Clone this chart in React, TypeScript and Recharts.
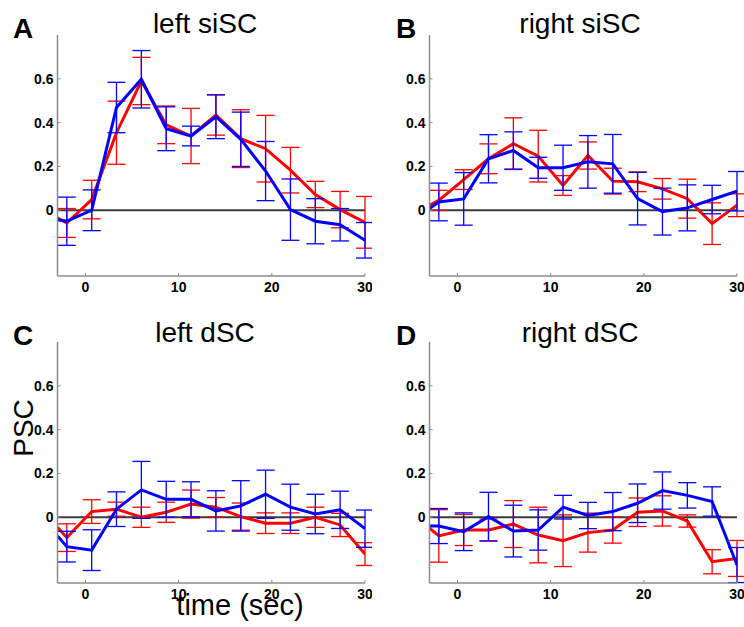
import { LineChart, Line, XAxis, YAxis, ReferenceLine, ErrorBar } from "recharts";

// sample times (s); the first entry is the left edge of the axes
const times = [-3, -2, 0.67, 3.33, 6, 8.67, 11.33, 14, 16.67, 19.33, 22, 24.67, 27.33, 30];
const xTicks = [0, 10, 20, 30];
const yTicks = [0, 0.2, 0.4, 0.6];

const leftSiscRed = [-0.035, -0.058, 0.049, 0.354, 0.59, 0.39, 0.339, 0.435, 0.327, 0.281, 0.183, 0.072, 0.003, -0.055];
const leftSiscRedErr = [null, 0.066, 0.088, 0.144, 0.108, 0.086, 0.126, 0.092, 0.132, 0.152, 0.104, 0.06, 0.083, 0.118];
const leftSiscBlue = [-0.043, -0.05, 0.0, 0.469, 0.598, 0.372, 0.339, 0.427, 0.324, 0.179, 0.003, -0.05, -0.066, -0.137];
const leftSiscBlueErr = [null, 0.11, 0.093, 0.115, 0.131, 0.1, 0.045, 0.1, 0.124, 0.135, 0.14, 0.103, 0.074, 0.081];

const rightSiscRed = [0.023, 0.045, 0.14, 0.235, 0.304, 0.247, 0.113, 0.25, 0.133, 0.13, 0.098, 0.053, -0.061, 0.023];
const rightSiscRedErr = [null, 0.046, 0.045, 0.068, 0.118, 0.118, 0.045, 0.062, 0.059, 0.045, 0.047, 0.089, 0.095, 0.052];
const rightSiscBlue = [0.008, 0.038, 0.052, 0.235, 0.273, 0.194, 0.194, 0.221, 0.212, 0.053, -0.006, 0.011, 0.049, 0.087];
const rightSiscBlueErr = [null, 0.086, 0.12, 0.11, 0.085, 0.048, 0.103, 0.12, 0.134, 0.12, 0.107, 0.105, 0.065, 0.09];

const leftDscRed = [-0.046, -0.093, 0.026, 0.037, 0.0, 0.023, 0.06, 0.046, 0.003, -0.027, -0.027, 0.0, -0.035, -0.168];
const leftDscRedErr = [null, 0.063, 0.054, 0.032, 0.046, 0.046, 0.064, 0.044, 0.062, 0.047, 0.047, 0.046, 0.053, 0.052];
const leftDscBlue = [-0.085, -0.134, -0.15, 0.037, 0.125, 0.082, 0.082, 0.029, 0.052, 0.105, 0.046, 0.015, 0.034, -0.052];
const leftDscBlueErr = [null, 0.07, 0.093, 0.079, 0.13, 0.082, 0.08, 0.092, 0.115, 0.11, 0.105, 0.09, 0.085, 0.085];

const rightDscRed = [-0.05, -0.085, -0.058, -0.058, -0.031, -0.081, -0.107, -0.07, -0.058, 0.023, 0.029, -0.017, -0.203, -0.188];
const rightDscRedErr = [null, 0.12, 0.071, 0.05, 0.107, 0.127, 0.118, 0.089, 0.06, 0.065, 0.069, 0.028, 0.055, 0.082];
const rightDscBlue = [-0.04, -0.04, -0.066, 0.003, -0.063, -0.058, 0.046, 0.008, 0.026, 0.064, 0.122, 0.1, 0.072, -0.218];
const rightDscBlueErr = [null, 0.08, 0.086, 0.111, 0.118, 0.092, 0.054, 0.06, 0.087, 0.088, 0.085, 0.058, 0.067, 0.08];

const FONT = '"Liberation Sans", Arial, Helvetica, sans-serif';
const RED = "#ff0000";
const BLUE = "#0000ff";

const buildRows = (red: number[], redErr: (number | null)[], blue: number[], blueErr: (number | null)[]) =>
	times.map((t, i) => ({
		t,
		red: red[i],
		redErr: redErr[i] ?? undefined,
		blue: blue[i],
		blueErr: blueErr[i] ?? undefined,
	}));

const panels = [
	{ letter: "A", title: "left siSC", left: 0, top: 0, data: buildRows(leftSiscRed, leftSiscRedErr, leftSiscBlue, leftSiscBlueErr) },
	{ letter: "B", title: "right siSC", left: 372, top: 0, data: buildRows(rightSiscRed, rightSiscRedErr, rightSiscBlue, rightSiscBlueErr) },
	{ letter: "C", title: "left dSC", left: 0, top: 307, data: buildRows(leftDscRed, leftDscRedErr, leftDscBlue, leftDscBlueErr) },
	{ letter: "D", title: "right dSC", left: 372, top: 307, data: buildRows(rightDscRed, rightDscRedErr, rightDscBlue, rightDscBlueErr) },
];

const tickStyle = { fill: "#000", fontSize: 14, fontWeight: 700, fontFamily: FONT };

function Panel({ data }: { data: any[] }) {
	return (
		<LineChart width={372} height={310} data={data} margin={{ top: 35, right: 7, left: 0, bottom: 4 }}>
			<XAxis
				dataKey="t"
				type="number"
				domain={[-3, 30]}
				allowDataOverflow
				ticks={xTicks}
				height={30}
				axisLine={{ stroke: "#8c8c8c", strokeWidth: 1.5 }}
				tickLine={{ stroke: "#8c8c8c" }}
				tickSize={-3}
				tickMargin={9}
				tick={tickStyle}
			/>
			<YAxis
				type="number"
				domain={[-0.3, 0.8]}
				allowDataOverflow
				ticks={yTicks}
				width={57.5}
				axisLine={{ stroke: "#8c8c8c", strokeWidth: 1.5 }}
				tickLine={{ stroke: "#8c8c8c" }}
				tickSize={-3}
				tickMargin={7}
				tick={tickStyle}
			/>
			<ReferenceLine y={0} stroke="#3a3a3a" strokeWidth={1.8} />
			<Line dataKey="red" stroke={RED} strokeWidth={3} dot={false} isAnimationActive={false}>
				<ErrorBar dataKey="redErr" direction="y" width={9} stroke={RED} strokeWidth={1.3} />
			</Line>
			<Line dataKey="blue" stroke={BLUE} strokeWidth={3} dot={false} isAnimationActive={false}>
				<ErrorBar dataKey="blueErr" direction="y" width={9} stroke={BLUE} strokeWidth={1.3} />
			</Line>
		</LineChart>
	);
}

export default function App() {
	return (
		<div style={{ position: "absolute", left: 0, top: 0, width: 744, height: 627, background: "#fff", overflow: "hidden" }}>
			{panels.map((p) => (
				<div key={p.letter} style={{ position: "absolute", left: p.left, top: p.top }}>
					<Panel data={p.data} />
				</div>
			))}
			<svg width={744} height={627} style={{ position: "absolute", left: 0, top: 0, pointerEvents: "none" }} fontFamily={FONT}>
				{panels.map((p) => (
					<g key={p.letter}>
						<text x={p.left + 13 + (p.left ? 11 : 0)} y={p.top + 38} fontSize={28} fontWeight={700}>
							{p.letter}
						</text>
						<text x={p.left + 205 + (p.left ? 3 : 0)} y={p.top + 33 + (p.top ? 2 : 0)} fontSize={28} textAnchor="middle">
							{p.title}
						</text>
					</g>
				))}
				<text transform="translate(33,428) rotate(-90)" fontSize={28} textAnchor="middle">
					PSC
				</text>
				<text x={240} y={615} fontSize={29} textAnchor="middle">
					time (sec)
				</text>
			</svg>
		</div>
	);
}
